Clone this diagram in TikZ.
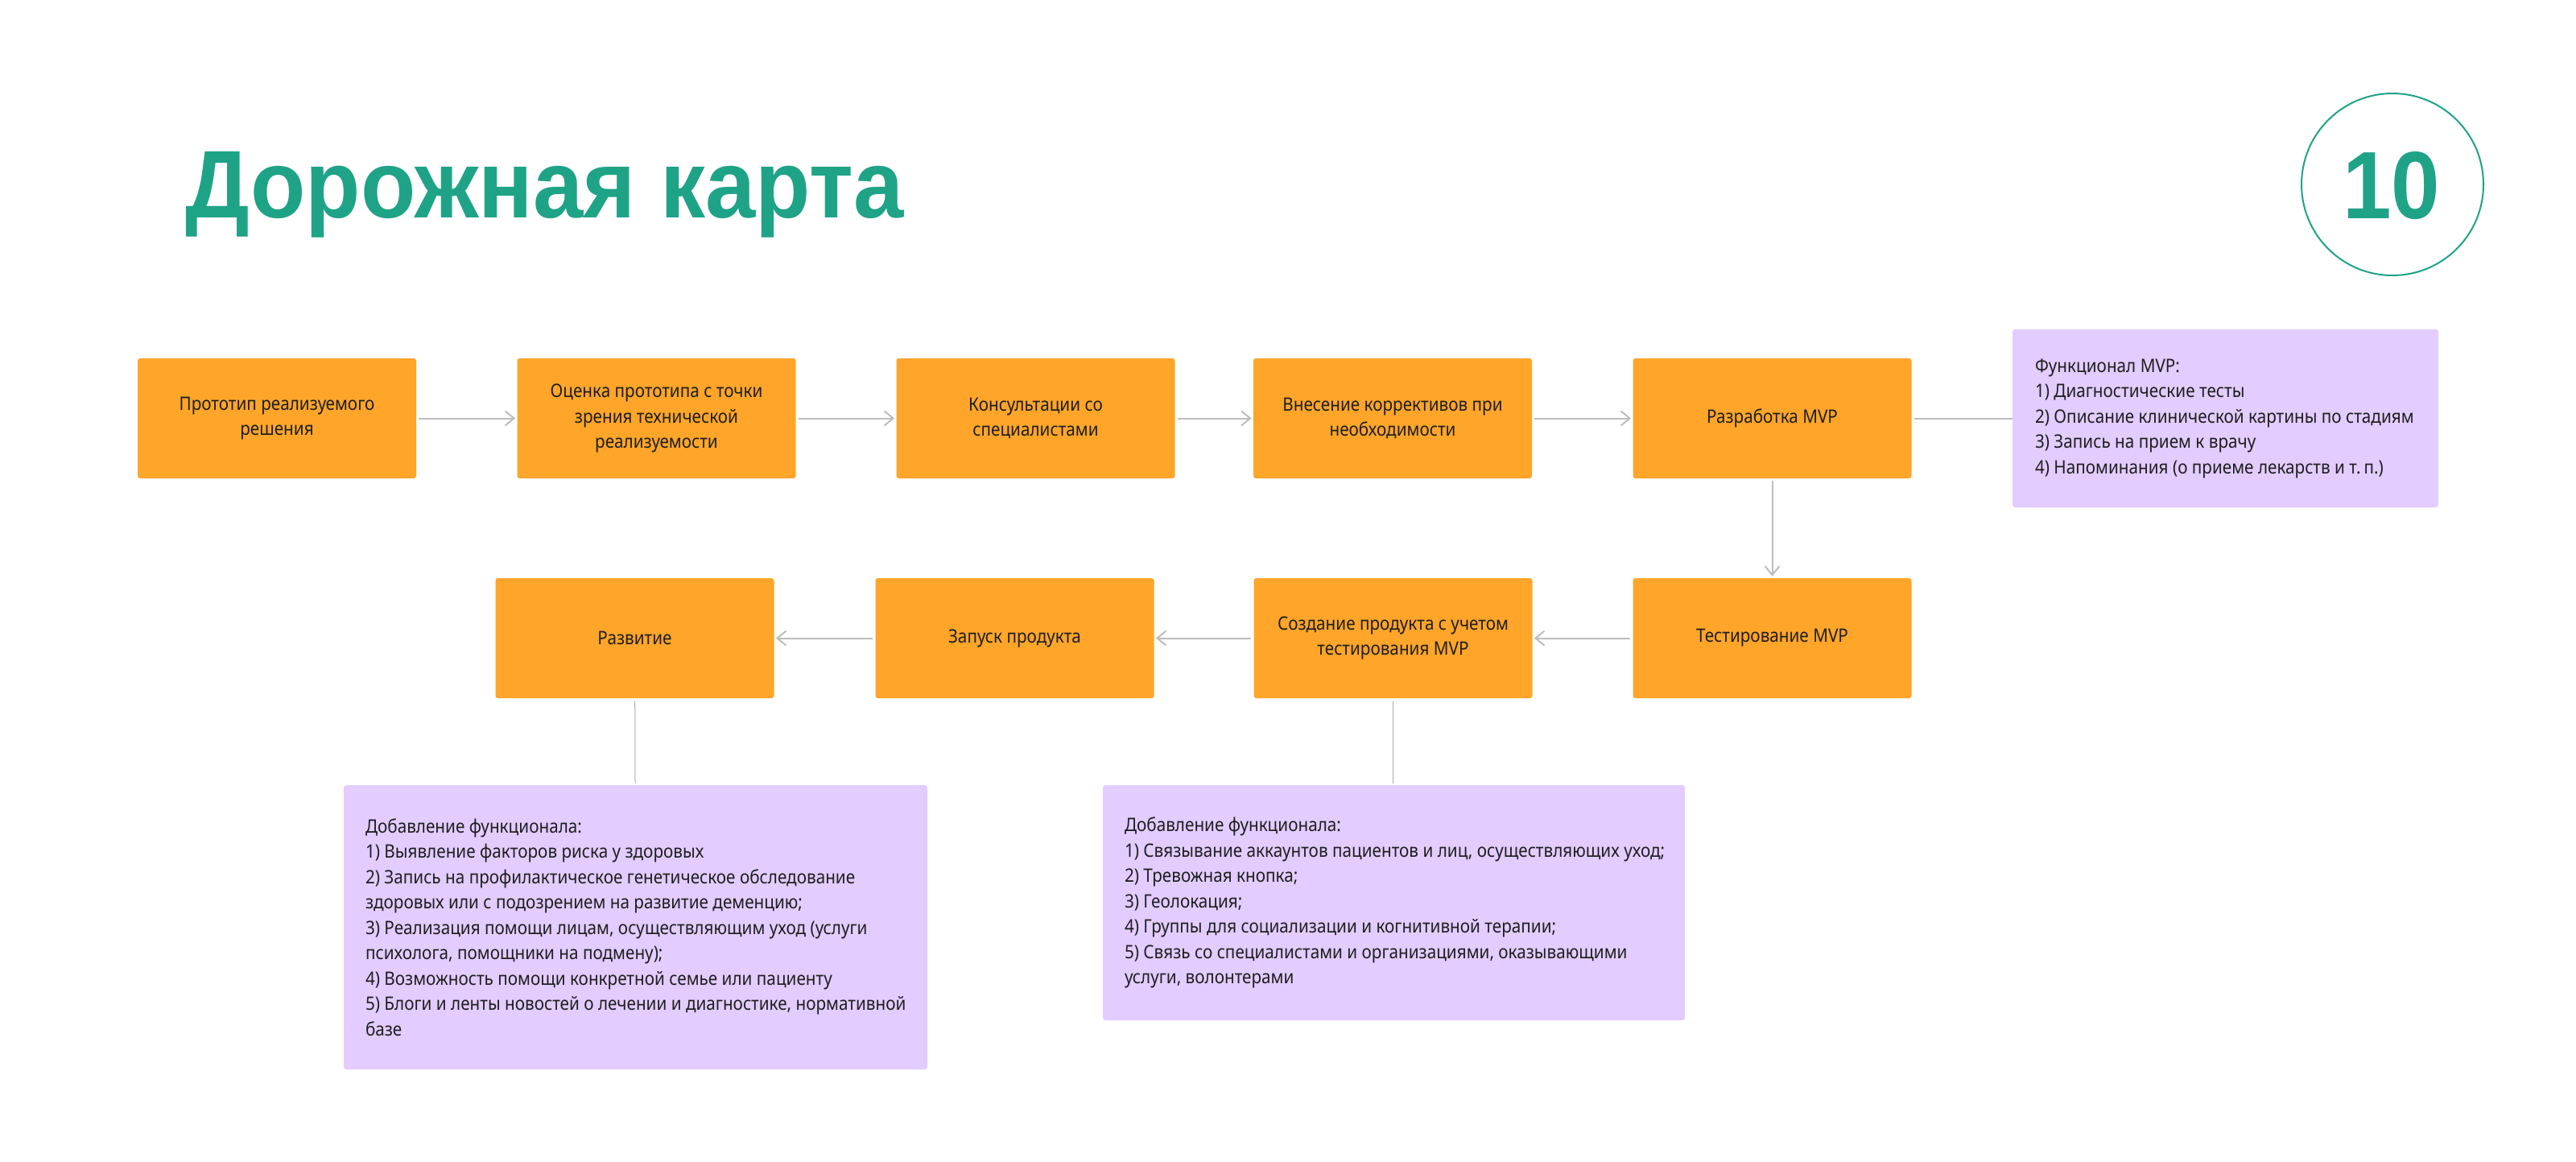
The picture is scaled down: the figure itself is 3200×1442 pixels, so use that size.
\documentclass[tikz,border=0pt]{standalone}
\usepackage{fontspec}
\setmainfont{Noto Sans}[FakeStretch=0.9]
\newfontfamily\titlefont{Liberation Sans}[BoldFont=* Bold]
\usetikzlibrary{arrows.meta}
\definecolor{tgreen}{HTML}{1FA387}
\definecolor{orng}{HTML}{FEA52A}
\definecolor{lilac}{HTML}{E3CCFF}
\definecolor{txt}{HTML}{1F1F1F}
\definecolor{arrgray}{HTML}{BDBDBD}
\definecolor{linegray}{HTML}{ABABAB}
\begin{document}
\begin{tikzpicture}[x=0.5pt,y=-0.5pt,
  bodyfont/.style={font=\fontsize{11.5pt}{15.75pt}\selectfont, text=txt},
  stepbox/.style={fill=orng, rounded corners=1.5pt, minimum width=173pt, minimum height=74.5pt, inner sep=0pt, align=center, bodyfont},
  notebox/.style={fill=lilac, rounded corners=1.5pt, inner sep=0pt},
  notetext/.style={anchor=west, inner sep=0pt, align=left, bodyfont},
  arr/.style={draw=arrgray, line width=1pt, -{Straight Barb[length=5.5pt,width=9pt]}, shorten <=1.5pt, shorten >=1pt},
  link/.style={draw=arrgray, line width=1pt, shorten <=1.5pt},
  thinlink/.style={draw=linegray, line width=0.5pt, shorten <=2pt, shorten >=1pt}]
\useasboundingbox[fill=white] (0,0) rectangle (3200,1442);

% title and page number
\node[anchor=base west, inner sep=0pt, text=tgreen] (title) at (230,270) {\resizebox{446pt}{41pt}{\titlefont\bfseries Дорожная карта}};
\node[circle, draw=tgreen, line width=1pt, minimum size=113pt, inner sep=0pt] (pg) at (2972,229) {};
\node[anchor=base, inner sep=0pt, text=tgreen] (pgnum) at (2970.5,271) {\resizebox{60.5pt}{41.5pt}{\titlefont\bfseries 10}};

% row 1
\node[stepbox] (b1) at (344,519.5) {Прототип реализуемого\\решения};
\node[stepbox] (b2) at (815.5,519.5) {Оценка прототипа с точки\\зрения технической\\реализуемости};
\node[stepbox] (b3) at (1286.5,519.5) {Консультации со\\специалистами};
\node[stepbox] (b4) at (1730,519.5) {Внесение коррективов при\\необходимости};
\node[stepbox] (b5) at (2201.5,519.5) {Разработка MVP};

% row 2
\node[stepbox] (c4) at (2201.5,792.5) {Тестирование MVP};
\node[stepbox] (c3) at (1730.5,792.5) {Создание продукта с учетом\\тестирования MVP};
\node[stepbox] (c2) at (1260.5,792.5) {Запуск продукта};
\node[stepbox] (c1) at (788.5,792.5) {Развитие};

% notes
\node[notebox, minimum width=264.5pt, minimum height=110.5pt] (n1) at (2764.5,519.5) {};
\node[notetext] (n1t) at ([xshift=14pt]n1.west) {Функционал MVP:\\1) Диагностические тесты\\2) Описание клинической картины по стадиям\\3) Запись на прием к врачу\\4) Напоминания (о приеме лекарств и т.\,п.)};

\node[notebox, minimum width=362.5pt, minimum height=176.5pt] (n2) at (789.5,1151.5) {};
\node[notetext] (n2t) at ([xshift=13.5pt]n2.west) {Добавление функционала:\\1) Выявление факторов риска у здоровых\\2) Запись на профилактическое генетическое обследование\\здоровых или с подозрением на развитие деменцию;\\3) Реализация помощи лицам, осуществляющим уход (услуги\\психолога, помощники на подмену);\\4) Возможность помощи конкретной семье или пациенту\\5) Блоги и ленты новостей о лечении и диагностике, нормативной\\базе};

\node[notebox, minimum width=361.5pt, minimum height=146pt] (n3) at (1731.5,1121) {};
\node[notetext] (n3t) at ([xshift=13.5pt]n3.west) {Добавление функционала:\\1) Связывание аккаунтов пациентов и лиц, осуществляющих уход;\\2) Тревожная кнопка;\\3) Геолокация;\\4) Группы для социализации и когнитивной терапии;\\5) Связь со специалистами и организациями, оказывающими\\услуги, волонтерами};

% connectors
\draw[arr] (b1) -- (b2);
\draw[arr] (b2) -- (b3);
\draw[arr] (b3) -- (b4);
\draw[arr] (b4) -- (b5);
\draw[link] (b5) -- (n1);
\draw[arr] (b5) -- (c4);
\draw[arr] (c4) -- (c3);
\draw[arr] (c3) -- (c2);
\draw[arr] (c2) -- (c1);
\draw[thinlink] (c1) -- (n2);
\draw[thinlink] (c3.south) -- (c3.south |- n3.north);
\end{tikzpicture}
\end{document}
